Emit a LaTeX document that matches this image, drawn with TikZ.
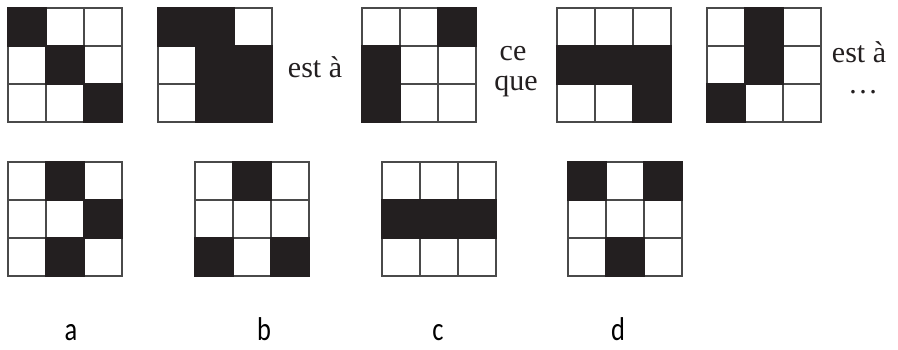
\documentclass[tikz,border=0pt]{standalone}
\usepackage{fontspec}
\setmainfont{Liberation Serif}
\newfontfamily\labfont[FakeStretch=0.8]{Carlito}
\definecolor{ink}{HTML}{231F20}
\definecolor{lineg}{HTML}{4A4A4A}
\tikzset{
  gridline/.style={draw=lineg, line width=1.2pt, line cap=rect},
  serif/.style={font=\fontsize{30}{32}\selectfont, text=ink, inner sep=0pt},
  labtxt/.style={font=\labfont\fontsize{33}{35}\selectfont, text=black, inner sep=0pt, anchor=base}
}
\newcommand\cellgrid[3]{%
  \foreach \k in {0,...,3} {%
    \draw[gridline] (#1+\k*38,#2) -- ++(0,114);
    \draw[gridline] (#1,#2+\k*38) -- ++(114,0);
  }%
  \foreach \v [count=\i from 0] in {#3} {%
    \pgfmathtruncatemacro\cc{mod(\i,3)}%
    \pgfmathtruncatemacro\rr{div(\i,3)}%
    \ifnum\v=1 \fill[ink] (#1+\cc*38-0.6,#2+\rr*38-0.6) rectangle ++(39.2,39.2);\fi
  }%
}
\begin{document}
\begin{tikzpicture}[x=1pt,y=-1pt]
\useasboundingbox[fill=white] (0,0) rectangle (898,349);
% top row
\cellgrid{8}{8}{1,0,0,0,1,0,0,0,1}
\cellgrid{158}{8}{1,1,0,0,1,1,0,1,1}
\cellgrid{362}{8}{0,0,1,1,0,0,1,0,0}
\cellgrid{557}{8}{0,0,0,1,1,1,0,0,1}
\cellgrid{707}{8}{0,1,0,0,1,0,1,0,0}
\node[serif, anchor=base] (esta1) at (315,77) {est à};
\node[serif, anchor=base] (ce) at (513,60) {ce};
\node[serif, anchor=base] (que) at (516,90) {que};
\node[serif, anchor=base] (esta2) at (859,62) {est à};
\node[serif, anchor=base] (dots) at (863,93) {…};
% bottom row
\cellgrid{8}{162}{0,1,0,0,0,1,0,1,0}
\cellgrid{195}{162}{0,1,0,0,0,0,1,0,1}
\cellgrid{382}{162}{0,0,0,1,1,1,0,0,0}
\cellgrid{568}{162}{1,0,1,0,0,0,0,1,0}
\node[labtxt] (la) at (71,340) {a};
\node[labtxt] (lb) at (264,340) {b};
\node[labtxt] (lc) at (438,340) {c};
\node[labtxt] (ld) at (618,340) {d};
\end{tikzpicture}
\end{document}
